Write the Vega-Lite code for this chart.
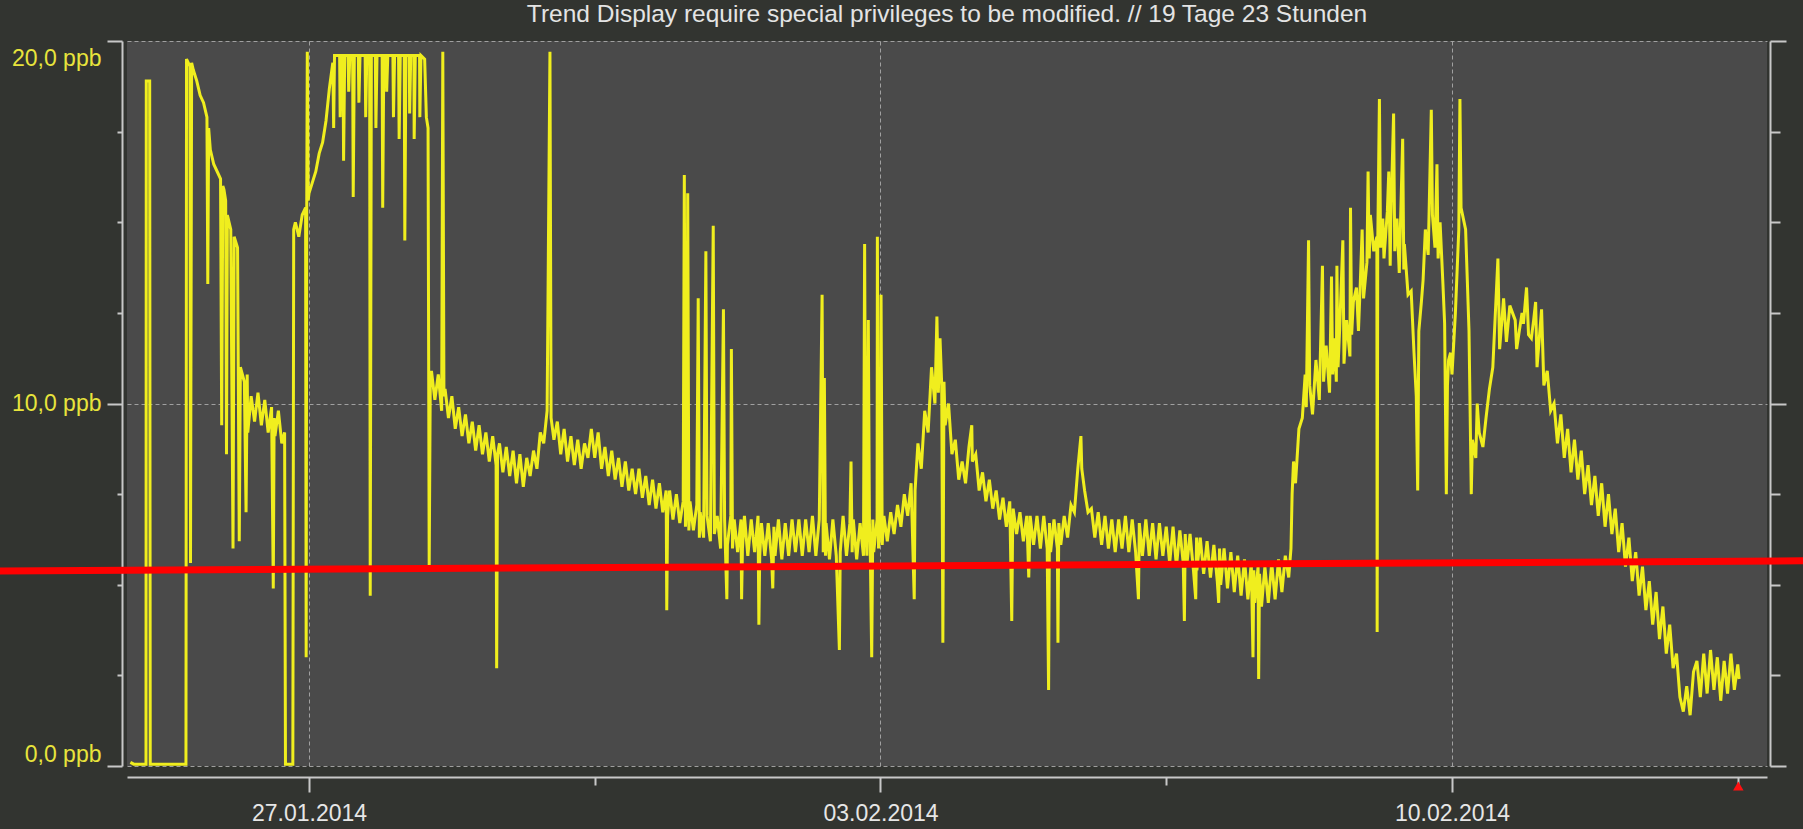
{
"$schema": "https://vega.github.io/schema/vega-lite/v6.json",
"width": 1640,
"height": 725,
"autosize": {"type": "none"},
"padding": {"left": 127, "top": 41, "right": 36, "bottom": 63},
"background": "#323430",
"view": {"fill": "#4a4a4a", "stroke": null},
"title": {"text": "Trend Display require special privileges to be modified. // 19 Tage 23 Stunden", "frame": "group", "anchor": "middle", "baseline": "alphabetic", "offset": 13, "dy": 19, "font": "Liberation Sans", "fontSize": 24.5, "fontWeight": "normal", "color": "#e4e4e4"},
"encoding": {
 "x": {"field": "t", "type": "temporal",
  "scale": {"domain": [{"year": 2014, "month": 1, "date": 24, "hours": 18, "minutes": 30}, {"year": 2014, "month": 2, "date": 13, "hours": 20, "minutes": 36}]},
  "axis": {"title": null, "orient": "bottom", "offset": 11,
   "values": [{"year": 2014, "month": 1, "date": 27}, {"year": 2014, "month": 1, "date": 30, "hours": 12}, {"year": 2014, "month": 2, "date": 3}, {"year": 2014, "month": 2, "date": 6, "hours": 12}, {"year": 2014, "month": 2, "date": 10}, {"year": 2014, "month": 2, "date": 13, "hours": 12}],
   "domainColor": "#c8c8c8", "domainWidth": 2, "tickColor": "#c8c8c8", "tickWidth": 2,
   "tickSize": {"condition": {"test": "hours(datum.value) == 0", "value": 15}, "value": 8},
   "grid": true, "gridColor": "#aaaaaa", "gridDash": [4, 3], "gridWidth": 1,
   "gridOpacity": {"condition": {"test": "hours(datum.value) == 0", "value": 0.9}, "value": 0},
   "labelExpr": "hours(datum.value) == 0 ? timeFormat(datum.value, '%d.%m.%Y') : ''",
   "labelFont": "Liberation Sans", "labelFontSize": 23, "labelColor": "#e6e6e6", "labelPadding": 10, "labelOverlap": false, "labelFlush": false}}
},
"layer": [
 {"data": {"values": [
{"t":"2014-01-24T19:30","v":0.1},{"t":"2014-01-24T20:30","v":0.05},{"t":"2014-01-24T22:00","v":0.05},{"t":"2014-01-24T23:30","v":0.05},
{"t":"2014-01-25T00:05","v":0.05},{"t":"2014-01-25T00:10","v":18.9},{"t":"2014-01-25T01:10","v":18.9},{"t":"2014-01-25T01:20","v":0.05},{"t":"2014-01-25T04:00","v":0.05},{"t":"2014-01-25T08:00","v":0.05},{"t":"2014-01-25T11:50","v":0.05},{"t":"2014-01-25T12:00","v":19.5},{"t":"2014-01-25T13:00","v":19.3},{"t":"2014-01-25T13:10","v":5.6},{"t":"2014-01-25T13:30","v":19.4},{"t":"2014-01-25T14:00","v":19.2},{"t":"2014-01-25T15:00","v":18.9},{"t":"2014-01-25T16:00","v":18.5},{"t":"2014-01-25T17:00","v":18.3},{"t":"2014-01-25T18:00","v":17.9},{"t":"2014-01-25T18:15","v":13.3},{"t":"2014-01-25T18:30","v":17.6},{"t":"2014-01-25T19:00","v":17.0},{"t":"2014-01-25T20:00","v":16.6},{"t":"2014-01-25T21:00","v":16.4},{"t":"2014-01-25T22:00","v":16.2},{"t":"2014-01-25T22:20","v":9.4},{"t":"2014-01-25T22:40","v":16.0},{"t":"2014-01-25T23:00","v":15.9},{"t":"2014-01-25T23:30","v":15.6},{"t":"2014-01-25T23:45","v":8.6},
{"t":"2014-01-26T00:00","v":15.2},{"t":"2014-01-26T01:00","v":14.8},{"t":"2014-01-26T01:40","v":6.0},{"t":"2014-01-26T02:00","v":14.6},{"t":"2014-01-26T03:00","v":14.3},{"t":"2014-01-26T03:30","v":6.2},{"t":"2014-01-26T03:50","v":11.0},{"t":"2014-01-26T05:00","v":10.6},{"t":"2014-01-26T05:30","v":7.0},{"t":"2014-01-26T05:50","v":10.8},{"t":"2014-01-26T06:00","v":9.2},{"t":"2014-01-26T07:00","v":10.2},{"t":"2014-01-26T08:00","v":9.5},{"t":"2014-01-26T09:00","v":10.3},{"t":"2014-01-26T10:00","v":9.4},{"t":"2014-01-26T11:00","v":10.1},{"t":"2014-01-26T12:00","v":9.2},{"t":"2014-01-26T13:00","v":9.9},{"t":"2014-01-26T13:30","v":4.9},{"t":"2014-01-26T13:45","v":9.6},{"t":"2014-01-26T14:00","v":9.1},{"t":"2014-01-26T15:00","v":9.8},{"t":"2014-01-26T16:00","v":8.9},{"t":"2014-01-26T16:50","v":9.2},{"t":"2014-01-26T17:05","v":0.05},{"t":"2014-01-26T19:15","v":0.05},{"t":"2014-01-26T19:30","v":14.8},{"t":"2014-01-26T20:00","v":15.0},{"t":"2014-01-26T21:00","v":14.6},{"t":"2014-01-26T22:00","v":15.2},{"t":"2014-01-26T23:00","v":15.4},{"t":"2014-01-26T23:10","v":3.0},{"t":"2014-01-26T23:20","v":15.3},{"t":"2014-01-26T23:30","v":19.7},{"t":"2014-01-26T23:45","v":15.6},
{"t":"2014-01-27T00:00","v":15.8},{"t":"2014-01-27T01:00","v":16.1},{"t":"2014-01-27T02:00","v":16.4},{"t":"2014-01-27T03:00","v":16.9},{"t":"2014-01-27T04:00","v":17.2},{"t":"2014-01-27T05:00","v":17.8},{"t":"2014-01-27T06:00","v":18.7},{"t":"2014-01-27T07:00","v":19.4},{"t":"2014-01-27T07:15","v":17.6},{"t":"2014-01-27T07:30","v":19.6},{"t":"2014-01-27T09:00","v":19.6},{"t":"2014-01-27T09:10","v":17.9},{"t":"2014-01-27T09:30","v":19.6},{"t":"2014-01-27T10:00","v":19.6},{"t":"2014-01-27T10:10","v":16.7},{"t":"2014-01-27T10:30","v":19.6},{"t":"2014-01-27T11:30","v":19.6},{"t":"2014-01-27T11:40","v":18.6},{"t":"2014-01-27T12:00","v":19.6},{"t":"2014-01-27T12:50","v":19.6},{"t":"2014-01-27T13:00","v":15.7},{"t":"2014-01-27T13:20","v":19.6},{"t":"2014-01-27T14:30","v":19.6},{"t":"2014-01-27T14:40","v":18.3},{"t":"2014-01-27T15:00","v":19.6},{"t":"2014-01-27T16:30","v":19.6},{"t":"2014-01-27T16:40","v":17.9},{"t":"2014-01-27T17:00","v":19.6},{"t":"2014-01-27T17:50","v":19.6},{"t":"2014-01-27T18:00","v":4.7},{"t":"2014-01-27T18:20","v":19.6},{"t":"2014-01-27T19:30","v":19.6},{"t":"2014-01-27T19:40","v":17.6},{"t":"2014-01-27T20:00","v":19.6},{"t":"2014-01-27T21:30","v":19.6},{"t":"2014-01-27T21:40","v":15.4},{"t":"2014-01-27T22:00","v":19.6},{"t":"2014-01-27T22:40","v":19.6},{"t":"2014-01-27T22:50","v":18.6},{"t":"2014-01-27T23:10","v":19.6},
{"t":"2014-01-28T00:40","v":19.6},{"t":"2014-01-28T00:50","v":17.9},{"t":"2014-01-28T01:10","v":19.6},{"t":"2014-01-28T02:20","v":19.6},{"t":"2014-01-28T02:30","v":17.3},{"t":"2014-01-28T02:50","v":19.6},{"t":"2014-01-28T04:00","v":19.6},{"t":"2014-01-28T04:10","v":14.5},{"t":"2014-01-28T04:30","v":19.6},{"t":"2014-01-28T05:30","v":19.6},{"t":"2014-01-28T05:35","v":18.0},{"t":"2014-01-28T05:55","v":19.6},{"t":"2014-01-28T06:50","v":19.6},{"t":"2014-01-28T06:55","v":17.3},{"t":"2014-01-28T07:15","v":19.6},{"t":"2014-01-28T08:30","v":19.6},{"t":"2014-01-28T08:35","v":17.9},{"t":"2014-01-28T08:55","v":19.6},{"t":"2014-01-28T10:00","v":19.5},{"t":"2014-01-28T10:30","v":17.9},{"t":"2014-01-28T11:00","v":17.6},{"t":"2014-01-28T11:20","v":5.5},{"t":"2014-01-28T11:40","v":10.8},{"t":"2014-01-28T12:00","v":10.9},{"t":"2014-01-28T13:00","v":10.1},{"t":"2014-01-28T14:00","v":10.8},{"t":"2014-01-28T15:00","v":9.8},{"t":"2014-01-28T15:20","v":19.7},{"t":"2014-01-28T15:40","v":10.2},{"t":"2014-01-28T16:00","v":10.4},{"t":"2014-01-28T17:00","v":9.6},{"t":"2014-01-28T18:00","v":10.2},{"t":"2014-01-28T19:00","v":9.3},{"t":"2014-01-28T20:00","v":9.9},{"t":"2014-01-28T21:00","v":9.1},{"t":"2014-01-28T22:00","v":9.7},{"t":"2014-01-28T23:00","v":8.9},
{"t":"2014-01-29T00:00","v":9.5},{"t":"2014-01-29T01:00","v":8.7},{"t":"2014-01-29T02:00","v":9.4},{"t":"2014-01-29T03:00","v":8.6},{"t":"2014-01-29T04:00","v":9.2},{"t":"2014-01-29T05:00","v":8.4},{"t":"2014-01-29T06:00","v":9.1},{"t":"2014-01-29T07:00","v":8.3},{"t":"2014-01-29T07:10","v":2.7},{"t":"2014-01-29T07:25","v":8.6},{"t":"2014-01-29T08:00","v":8.9},{"t":"2014-01-29T09:00","v":8.1},{"t":"2014-01-29T10:00","v":8.8},{"t":"2014-01-29T11:00","v":8.0},{"t":"2014-01-29T12:00","v":8.7},{"t":"2014-01-29T13:00","v":7.8},{"t":"2014-01-29T14:00","v":8.6},{"t":"2014-01-29T15:00","v":7.7},{"t":"2014-01-29T16:00","v":8.5},{"t":"2014-01-29T17:00","v":8.0},{"t":"2014-01-29T18:00","v":8.7},{"t":"2014-01-29T19:00","v":8.2},{"t":"2014-01-29T20:00","v":9.2},{"t":"2014-01-29T21:00","v":8.9},{"t":"2014-01-29T22:00","v":9.8},{"t":"2014-01-29T22:50","v":19.7},{"t":"2014-01-29T23:10","v":9.6},
{"t":"2014-01-30T00:00","v":9.0},{"t":"2014-01-30T01:00","v":9.5},{"t":"2014-01-30T02:00","v":8.6},{"t":"2014-01-30T03:00","v":9.3},{"t":"2014-01-30T04:00","v":8.4},{"t":"2014-01-30T05:00","v":9.1},{"t":"2014-01-30T06:00","v":8.3},{"t":"2014-01-30T07:00","v":9.0},{"t":"2014-01-30T08:00","v":8.2},{"t":"2014-01-30T09:00","v":8.9},{"t":"2014-01-30T10:00","v":8.5},{"t":"2014-01-30T11:00","v":9.3},{"t":"2014-01-30T12:00","v":8.5},{"t":"2014-01-30T13:00","v":9.2},{"t":"2014-01-30T14:00","v":8.2},{"t":"2014-01-30T15:00","v":8.8},{"t":"2014-01-30T16:00","v":8.0},{"t":"2014-01-30T17:00","v":8.7},{"t":"2014-01-30T18:00","v":7.9},{"t":"2014-01-30T19:00","v":8.5},{"t":"2014-01-30T20:00","v":7.7},{"t":"2014-01-30T21:00","v":8.4},{"t":"2014-01-30T22:00","v":7.6},{"t":"2014-01-30T23:00","v":8.2},
{"t":"2014-01-31T00:00","v":7.5},{"t":"2014-01-31T01:00","v":8.2},{"t":"2014-01-31T02:00","v":7.4},{"t":"2014-01-31T03:00","v":8.0},{"t":"2014-01-31T04:00","v":7.2},{"t":"2014-01-31T05:00","v":7.9},{"t":"2014-01-31T06:00","v":7.1},{"t":"2014-01-31T07:00","v":7.8},{"t":"2014-01-31T08:00","v":7.0},{"t":"2014-01-31T09:00","v":7.6},{"t":"2014-01-31T09:10","v":4.3},{"t":"2014-01-31T09:25","v":6.9},{"t":"2014-01-31T10:00","v":7.6},{"t":"2014-01-31T11:00","v":6.8},{"t":"2014-01-31T12:00","v":7.5},{"t":"2014-01-31T13:00","v":6.7},{"t":"2014-01-31T14:00","v":7.3},{"t":"2014-01-31T14:20","v":16.3},{"t":"2014-01-31T14:40","v":6.6},{"t":"2014-01-31T15:00","v":7.2},{"t":"2014-01-31T15:20","v":15.8},{"t":"2014-01-31T15:40","v":6.5},{"t":"2014-01-31T16:00","v":7.3},{"t":"2014-01-31T17:00","v":6.5},{"t":"2014-01-31T18:00","v":7.2},{"t":"2014-01-31T18:25","v":12.9},{"t":"2014-01-31T18:45","v":6.3},{"t":"2014-01-31T19:00","v":7.0},{"t":"2014-01-31T20:00","v":6.3},{"t":"2014-01-31T20:40","v":14.2},{"t":"2014-01-31T21:00","v":6.9},{"t":"2014-01-31T22:00","v":6.2},{"t":"2014-01-31T22:50","v":14.9},{"t":"2014-01-31T23:10","v":6.4},
{"t":"2014-02-01T00:00","v":6.9},{"t":"2014-02-01T01:00","v":6.0},{"t":"2014-02-01T01:50","v":12.6},{"t":"2014-02-01T02:10","v":6.8},{"t":"2014-02-01T02:50","v":4.6},{"t":"2014-02-01T03:00","v":6.1},{"t":"2014-02-01T04:00","v":6.9},{"t":"2014-02-01T04:10","v":11.5},{"t":"2014-02-01T04:30","v":6.0},{"t":"2014-02-01T05:00","v":6.8},{"t":"2014-02-01T06:00","v":5.9},{"t":"2014-02-01T07:00","v":6.8},{"t":"2014-02-01T07:10","v":4.6},{"t":"2014-02-01T07:25","v":6.0},{"t":"2014-02-01T08:00","v":6.9},{"t":"2014-02-01T09:00","v":5.8},{"t":"2014-02-01T10:00","v":6.8},{"t":"2014-02-01T11:00","v":5.9},{"t":"2014-02-01T12:00","v":6.9},{"t":"2014-02-01T12:15","v":3.9},{"t":"2014-02-01T12:30","v":5.8},{"t":"2014-02-01T13:00","v":6.7},{"t":"2014-02-01T14:00","v":5.8},{"t":"2014-02-01T15:00","v":6.7},{"t":"2014-02-01T16:00","v":5.7},{"t":"2014-02-01T16:20","v":4.9},{"t":"2014-02-01T16:40","v":6.6},{"t":"2014-02-01T17:00","v":5.8},{"t":"2014-02-01T18:00","v":6.8},{"t":"2014-02-01T19:00","v":5.7},{"t":"2014-02-01T20:00","v":6.7},{"t":"2014-02-01T21:00","v":5.8},{"t":"2014-02-01T22:00","v":6.8},{"t":"2014-02-01T23:00","v":5.9},
{"t":"2014-02-02T00:00","v":6.8},{"t":"2014-02-02T01:00","v":5.8},{"t":"2014-02-02T02:00","v":6.8},{"t":"2014-02-02T03:00","v":5.9},{"t":"2014-02-02T04:00","v":6.9},{"t":"2014-02-02T05:00","v":5.8},{"t":"2014-02-02T06:00","v":6.8},{"t":"2014-02-02T06:50","v":13.0},{"t":"2014-02-02T07:10","v":5.9},{"t":"2014-02-02T07:30","v":10.7},{"t":"2014-02-02T07:50","v":5.8},{"t":"2014-02-02T08:00","v":6.7},{"t":"2014-02-02T09:00","v":5.7},{"t":"2014-02-02T10:00","v":6.8},{"t":"2014-02-02T11:00","v":5.8},{"t":"2014-02-02T11:55","v":3.2},{"t":"2014-02-02T12:10","v":5.9},{"t":"2014-02-02T13:00","v":6.9},{"t":"2014-02-02T14:00","v":5.8},{"t":"2014-02-02T15:00","v":6.7},{"t":"2014-02-02T15:20","v":8.4},{"t":"2014-02-02T15:40","v":5.9},{"t":"2014-02-02T16:00","v":6.8},{"t":"2014-02-02T17:00","v":5.7},{"t":"2014-02-02T18:00","v":6.7},{"t":"2014-02-02T19:00","v":5.8},{"t":"2014-02-02T19:20","v":14.4},{"t":"2014-02-02T19:40","v":6.6},{"t":"2014-02-02T20:00","v":5.8},{"t":"2014-02-02T20:25","v":12.3},{"t":"2014-02-02T20:45","v":6.7},{"t":"2014-02-02T21:00","v":5.9},{"t":"2014-02-02T21:25","v":3.0},{"t":"2014-02-02T21:45","v":6.8},{"t":"2014-02-02T22:00","v":5.9},{"t":"2014-02-02T23:00","v":6.8},{"t":"2014-02-02T23:05","v":14.6},{"t":"2014-02-02T23:25","v":6.0},
{"t":"2014-02-03T00:00","v":6.9},{"t":"2014-02-03T00:10","v":13.0},{"t":"2014-02-03T00:30","v":6.1},{"t":"2014-02-03T01:00","v":6.9},{"t":"2014-02-03T02:00","v":6.2},{"t":"2014-02-03T03:00","v":7.0},{"t":"2014-02-03T04:00","v":6.4},{"t":"2014-02-03T05:00","v":7.2},{"t":"2014-02-03T06:00","v":6.6},{"t":"2014-02-03T07:00","v":7.5},{"t":"2014-02-03T08:00","v":6.9},{"t":"2014-02-03T09:00","v":7.8},{"t":"2014-02-03T09:55","v":4.6},{"t":"2014-02-03T10:10","v":7.6},{"t":"2014-02-03T11:00","v":8.9},{"t":"2014-02-03T12:00","v":8.2},{"t":"2014-02-03T13:00","v":9.8},{"t":"2014-02-03T14:00","v":9.2},{"t":"2014-02-03T15:00","v":11.0},{"t":"2014-02-03T16:00","v":10.0},{"t":"2014-02-03T16:35","v":12.4},{"t":"2014-02-03T17:00","v":10.3},{"t":"2014-02-03T17:30","v":11.8},{"t":"2014-02-03T18:00","v":10.5},{"t":"2014-02-03T18:20","v":3.4},{"t":"2014-02-03T18:40","v":10.6},{"t":"2014-02-03T19:00","v":9.4},{"t":"2014-02-03T20:00","v":10.0},{"t":"2014-02-03T21:00","v":8.6},{"t":"2014-02-03T22:00","v":9.0},{"t":"2014-02-03T23:00","v":7.9},
{"t":"2014-02-04T00:00","v":8.4},{"t":"2014-02-04T01:00","v":7.8},{"t":"2014-02-04T02:00","v":8.8},{"t":"2014-02-04T02:50","v":9.4},{"t":"2014-02-04T03:00","v":8.4},{"t":"2014-02-04T04:00","v":8.6},{"t":"2014-02-04T05:00","v":7.6},{"t":"2014-02-04T06:00","v":8.1},{"t":"2014-02-04T07:00","v":7.3},{"t":"2014-02-04T08:00","v":7.9},{"t":"2014-02-04T09:00","v":7.1},{"t":"2014-02-04T10:00","v":7.6},{"t":"2014-02-04T11:00","v":6.8},{"t":"2014-02-04T12:00","v":7.4},{"t":"2014-02-04T13:00","v":6.6},{"t":"2014-02-04T14:00","v":7.3},{"t":"2014-02-04T14:35","v":4.0},{"t":"2014-02-04T14:50","v":6.5},{"t":"2014-02-04T15:00","v":7.1},{"t":"2014-02-04T16:00","v":6.4},{"t":"2014-02-04T17:00","v":7.0},{"t":"2014-02-04T18:00","v":6.2},{"t":"2014-02-04T19:00","v":6.9},{"t":"2014-02-04T19:35","v":5.2},{"t":"2014-02-04T19:50","v":6.2},{"t":"2014-02-04T20:00","v":6.9},{"t":"2014-02-04T21:00","v":6.1},{"t":"2014-02-04T22:00","v":6.9},{"t":"2014-02-04T23:00","v":6.0},
{"t":"2014-02-05T00:00","v":6.9},{"t":"2014-02-05T01:00","v":6.0},{"t":"2014-02-05T01:25","v":2.1},{"t":"2014-02-05T01:40","v":6.7},{"t":"2014-02-05T02:00","v":5.9},{"t":"2014-02-05T03:00","v":6.8},{"t":"2014-02-05T04:00","v":6.0},{"t":"2014-02-05T04:10","v":3.4},{"t":"2014-02-05T04:25","v":6.7},{"t":"2014-02-05T05:00","v":6.1},{"t":"2014-02-05T06:00","v":6.9},{"t":"2014-02-05T07:00","v":6.3},{"t":"2014-02-05T08:00","v":7.2},{"t":"2014-02-05T09:00","v":7.0},{"t":"2014-02-05T10:00","v":8.2},{"t":"2014-02-05T10:55","v":9.1},{"t":"2014-02-05T11:10","v":8.2},{"t":"2014-02-05T12:00","v":7.6},{"t":"2014-02-05T13:00","v":7.0},{"t":"2014-02-05T14:00","v":7.1},{"t":"2014-02-05T15:00","v":6.3},{"t":"2014-02-05T16:00","v":7.0},{"t":"2014-02-05T17:00","v":6.1},{"t":"2014-02-05T18:00","v":6.9},{"t":"2014-02-05T19:00","v":6.0},{"t":"2014-02-05T20:00","v":6.8},{"t":"2014-02-05T21:00","v":5.9},{"t":"2014-02-05T22:00","v":6.8},{"t":"2014-02-05T23:00","v":6.0},
{"t":"2014-02-06T00:00","v":6.9},{"t":"2014-02-06T01:00","v":5.9},{"t":"2014-02-06T02:00","v":6.8},{"t":"2014-02-06T03:00","v":5.9},{"t":"2014-02-06T03:50","v":4.6},{"t":"2014-02-06T04:05","v":6.7},{"t":"2014-02-06T05:00","v":5.8},{"t":"2014-02-06T06:00","v":6.8},{"t":"2014-02-06T07:00","v":5.8},{"t":"2014-02-06T08:00","v":6.7},{"t":"2014-02-06T09:00","v":5.7},{"t":"2014-02-06T10:00","v":6.7},{"t":"2014-02-06T11:00","v":5.8},{"t":"2014-02-06T12:00","v":6.6},{"t":"2014-02-06T13:00","v":5.6},{"t":"2014-02-06T14:00","v":6.6},{"t":"2014-02-06T15:00","v":5.5},{"t":"2014-02-06T16:00","v":6.5},{"t":"2014-02-06T17:00","v":5.6},{"t":"2014-02-06T17:20","v":4.0},{"t":"2014-02-06T17:35","v":6.4},{"t":"2014-02-06T18:00","v":5.5},{"t":"2014-02-06T19:00","v":6.4},{"t":"2014-02-06T20:00","v":5.4},{"t":"2014-02-06T20:40","v":4.6},{"t":"2014-02-06T20:55","v":6.3},{"t":"2014-02-06T21:00","v":5.4},{"t":"2014-02-06T22:00","v":6.3},{"t":"2014-02-06T23:00","v":5.3},
{"t":"2014-02-07T00:00","v":6.2},{"t":"2014-02-07T01:00","v":5.2},{"t":"2014-02-07T02:00","v":6.1},{"t":"2014-02-07T03:00","v":5.1},{"t":"2014-02-07T03:25","v":4.5},{"t":"2014-02-07T03:40","v":6.0},{"t":"2014-02-07T04:00","v":5.0},{"t":"2014-02-07T05:00","v":6.0},{"t":"2014-02-07T06:00","v":4.9},{"t":"2014-02-07T07:00","v":5.9},{"t":"2014-02-07T08:00","v":4.8},{"t":"2014-02-07T09:00","v":5.8},{"t":"2014-02-07T10:00","v":4.7},{"t":"2014-02-07T11:00","v":5.7},{"t":"2014-02-07T12:00","v":4.6},{"t":"2014-02-07T13:00","v":5.6},{"t":"2014-02-07T13:30","v":3.0},{"t":"2014-02-07T13:45","v":5.4},{"t":"2014-02-07T14:00","v":4.5},{"t":"2014-02-07T15:00","v":5.5},{"t":"2014-02-07T15:10","v":2.4},{"t":"2014-02-07T15:25","v":5.3},{"t":"2014-02-07T16:00","v":4.4},{"t":"2014-02-07T17:00","v":5.5},{"t":"2014-02-07T18:00","v":4.5},{"t":"2014-02-07T19:00","v":5.6},{"t":"2014-02-07T20:00","v":4.6},{"t":"2014-02-07T21:00","v":5.7},{"t":"2014-02-07T22:00","v":4.8},{"t":"2014-02-07T23:00","v":5.8},
{"t":"2014-02-08T00:00","v":5.2},{"t":"2014-02-08T00:40","v":6.0},{"t":"2014-02-08T01:00","v":7.5},{"t":"2014-02-08T01:25","v":8.4},{"t":"2014-02-08T02:00","v":7.8},{"t":"2014-02-08T03:00","v":9.3},{"t":"2014-02-08T04:00","v":9.6},{"t":"2014-02-08T04:50","v":10.8},{"t":"2014-02-08T05:10","v":9.9},{"t":"2014-02-08T05:50","v":14.5},{"t":"2014-02-08T06:10","v":10.5},{"t":"2014-02-08T07:00","v":9.7},{"t":"2014-02-08T08:00","v":11.2},{"t":"2014-02-08T09:00","v":10.1},{"t":"2014-02-08T09:55","v":13.8},{"t":"2014-02-08T10:15","v":10.6},{"t":"2014-02-08T11:00","v":11.6},{"t":"2014-02-08T12:00","v":10.3},{"t":"2014-02-08T12:35","v":13.5},{"t":"2014-02-08T12:55","v":10.8},{"t":"2014-02-08T13:30","v":11.8},{"t":"2014-02-08T14:00","v":10.6},{"t":"2014-02-08T14:10","v":13.8},{"t":"2014-02-08T14:30","v":11.0},{"t":"2014-02-08T15:00","v":12.1},{"t":"2014-02-08T15:55","v":14.5},{"t":"2014-02-08T16:15","v":11.1},{"t":"2014-02-08T17:00","v":12.3},{"t":"2014-02-08T18:00","v":11.3},{"t":"2014-02-08T18:10","v":15.4},{"t":"2014-02-08T18:30","v":11.9},{"t":"2014-02-08T19:00","v":12.8},{"t":"2014-02-08T19:55","v":13.2},{"t":"2014-02-08T20:30","v":12.0},{"t":"2014-02-08T21:00","v":13.2},{"t":"2014-02-08T21:35","v":14.8},{"t":"2014-02-08T22:00","v":12.9},{"t":"2014-02-08T23:00","v":13.9},{"t":"2014-02-08T23:20","v":16.4},{"t":"2014-02-08T23:40","v":14.0},
{"t":"2014-02-09T00:00","v":15.2},{"t":"2014-02-09T01:00","v":14.2},{"t":"2014-02-09T01:55","v":14.6},{"t":"2014-02-09T02:00","v":3.7},{"t":"2014-02-09T02:10","v":14.4},{"t":"2014-02-09T02:40","v":18.4},{"t":"2014-02-09T03:00","v":14.3},{"t":"2014-02-09T03:40","v":15.1},{"t":"2014-02-09T04:00","v":14.0},{"t":"2014-02-09T05:00","v":15.3},{"t":"2014-02-09T05:25","v":16.4},{"t":"2014-02-09T05:50","v":13.8},{"t":"2014-02-09T06:00","v":15.0},{"t":"2014-02-09T06:50","v":18.0},{"t":"2014-02-09T07:10","v":14.2},{"t":"2014-02-09T07:50","v":15.1},{"t":"2014-02-09T08:30","v":13.6},{"t":"2014-02-09T09:30","v":17.3},{"t":"2014-02-09T09:50","v":13.7},{"t":"2014-02-09T10:00","v":14.4},{"t":"2014-02-09T11:05","v":13.0},{"t":"2014-02-09T12:00","v":13.1},{"t":"2014-02-09T12:50","v":11.4},{"t":"2014-02-09T13:30","v":10.2},{"t":"2014-02-09T13:55","v":7.6},{"t":"2014-02-09T14:15","v":12.0},{"t":"2014-02-09T15:00","v":12.8},{"t":"2014-02-09T15:30","v":13.4},{"t":"2014-02-09T16:10","v":14.8},{"t":"2014-02-09T17:00","v":14.1},{"t":"2014-02-09T17:55","v":18.1},{"t":"2014-02-09T18:15","v":15.2},{"t":"2014-02-09T19:00","v":14.3},{"t":"2014-02-09T19:35","v":16.6},{"t":"2014-02-09T19:55","v":14.0},{"t":"2014-02-09T20:30","v":15.0},{"t":"2014-02-09T21:20","v":13.3},{"t":"2014-02-09T21:50","v":12.2},{"t":"2014-02-09T22:20","v":7.5},{"t":"2014-02-09T22:40","v":10.5},{"t":"2014-02-09T23:00","v":11.2},{"t":"2014-02-09T23:35","v":11.4},
{"t":"2014-02-10T00:00","v":10.8},{"t":"2014-02-10T01:00","v":12.5},{"t":"2014-02-10T02:00","v":14.8},{"t":"2014-02-10T02:20","v":18.4},{"t":"2014-02-10T02:40","v":15.4},{"t":"2014-02-10T04:00","v":14.8},{"t":"2014-02-10T05:00","v":12.0},{"t":"2014-02-10T05:40","v":7.5},{"t":"2014-02-10T06:00","v":9.0},{"t":"2014-02-10T07:00","v":8.5},{"t":"2014-02-10T07:25","v":10.0},{"t":"2014-02-10T08:00","v":9.2},{"t":"2014-02-10T09:05","v":8.8},{"t":"2014-02-10T10:00","v":9.6},{"t":"2014-02-10T11:00","v":10.4},{"t":"2014-02-10T12:00","v":11.0},{"t":"2014-02-10T13:30","v":14.0},{"t":"2014-02-10T14:00","v":11.5},{"t":"2014-02-10T15:10","v":12.9},{"t":"2014-02-10T16:00","v":11.7},{"t":"2014-02-10T17:00","v":12.7},{"t":"2014-02-10T18:35","v":12.3},{"t":"2014-02-10T19:00","v":11.5},{"t":"2014-02-10T20:35","v":12.5},{"t":"2014-02-10T21:00","v":12.2},{"t":"2014-02-10T21:55","v":13.2},{"t":"2014-02-10T22:30","v":11.9},{"t":"2014-02-10T23:20","v":11.8},
{"t":"2014-02-11T00:00","v":12.3},{"t":"2014-02-11T00:35","v":12.8},{"t":"2014-02-11T01:00","v":11.0},{"t":"2014-02-11T02:20","v":12.6},{"t":"2014-02-11T03:00","v":10.5},{"t":"2014-02-11T04:00","v":10.9},{"t":"2014-02-11T05:00","v":9.8},{"t":"2014-02-11T06:00","v":10.0},{"t":"2014-02-11T07:00","v":8.9},{"t":"2014-02-11T08:00","v":9.7},{"t":"2014-02-11T09:00","v":8.5},{"t":"2014-02-11T10:00","v":9.3},{"t":"2014-02-11T11:00","v":8.1},{"t":"2014-02-11T12:00","v":9.0},{"t":"2014-02-11T13:00","v":7.9},{"t":"2014-02-11T14:00","v":8.7},{"t":"2014-02-11T15:00","v":7.5},{"t":"2014-02-11T16:00","v":8.3},{"t":"2014-02-11T17:00","v":7.2},{"t":"2014-02-11T18:00","v":8.0},{"t":"2014-02-11T19:00","v":6.9},{"t":"2014-02-11T20:00","v":7.8},{"t":"2014-02-11T21:00","v":6.6},{"t":"2014-02-11T22:00","v":7.5},{"t":"2014-02-11T23:00","v":6.4},
{"t":"2014-02-12T00:00","v":7.1},{"t":"2014-02-12T01:00","v":5.9},{"t":"2014-02-12T02:00","v":6.7},{"t":"2014-02-12T03:00","v":5.5},{"t":"2014-02-12T04:00","v":6.3},{"t":"2014-02-12T05:00","v":5.1},{"t":"2014-02-12T06:00","v":5.9},{"t":"2014-02-12T07:00","v":4.7},{"t":"2014-02-12T08:00","v":5.5},{"t":"2014-02-12T09:00","v":4.3},{"t":"2014-02-12T10:00","v":5.1},{"t":"2014-02-12T11:00","v":3.9},{"t":"2014-02-12T12:00","v":4.8},{"t":"2014-02-12T13:00","v":3.5},{"t":"2014-02-12T14:00","v":4.4},{"t":"2014-02-12T15:00","v":3.1},{"t":"2014-02-12T16:00","v":3.9},{"t":"2014-02-12T17:00","v":2.7},{"t":"2014-02-12T18:00","v":3.1},{"t":"2014-02-12T19:00","v":1.9},{"t":"2014-02-12T20:00","v":1.5},{"t":"2014-02-12T21:00","v":2.2},{"t":"2014-02-12T22:00","v":1.4},{"t":"2014-02-12T23:00","v":2.6},
{"t":"2014-02-13T00:00","v":2.9},{"t":"2014-02-13T01:00","v":1.9},{"t":"2014-02-13T02:00","v":3.1},{"t":"2014-02-13T03:00","v":2.0},{"t":"2014-02-13T04:00","v":3.2},{"t":"2014-02-13T05:00","v":2.1},{"t":"2014-02-13T06:00","v":3.0},{"t":"2014-02-13T07:00","v":1.8},{"t":"2014-02-13T08:00","v":2.9},{"t":"2014-02-13T09:00","v":2.0},{"t":"2014-02-13T10:00","v":3.1},{"t":"2014-02-13T11:00","v":2.1},{"t":"2014-02-13T12:00","v":2.8},{"t":"2014-02-13T12:25","v":2.4}
 ]},
  "mark": {"type": "line", "color": "#f0ee1e", "strokeWidth": 3},
  "encoding": {"y": {"field": "v", "type": "quantitative",
   "scale": {"domain": [0, 20], "nice": false, "zero": false},
   "axis": {"orient": "left", "title": null, "offset": 5, "values": [0, 2.5, 5, 7.5, 10, 12.5, 15, 17.5, 20],
    "domainColor": "#c8c8c8", "domainWidth": 2, "tickColor": "#c8c8c8", "tickWidth": 2,
    "tickSize": {"condition": {"test": "datum.value % 10 == 0", "value": 15}, "value": 5},
    "grid": true, "gridColor": "#aaaaaa", "gridDash": [4, 3], "gridWidth": 1,
    "gridOpacity": {"condition": {"test": "datum.value % 10 == 0", "value": 0.9}, "value": 0},
    "labelExpr": "datum.value == 20 ? '20,0 ppb' : datum.value == 10 ? '10,0 ppb' : datum.value == 0 ? '0,0 ppb' : ''",
    "labelFont": "Liberation Sans", "labelFontSize": 23, "labelColor": "#e8e43c", "labelPadding": 6,
    "labelFlush": true, "labelOverlap": false, "labelBound": false,
    "labelOffset": {"condition": {"test": "datum.value == 20", "value": 6}, "value": 0}}}}
 },
 {"data": {"values": [{"t": "2014-01-23T05:10", "t2": "2014-02-14T07:12", "v": 5.38, "v2": 5.66}]},
  "mark": {"type": "rule", "color": "#ff0000", "strokeWidth": 7, "clip": false},
  "encoding": {"x2": {"field": "t2"},
   "y": {"field": "v", "type": "quantitative", "scale": {"domain": [0, 20], "nice": false, "zero": false},
    "axis": {"orient": "right", "title": null, "offset": 3, "values": [0, 2.5, 5, 7.5, 10, 12.5, 15, 17.5, 20], "labels": false, "grid": false,
     "domainColor": "#c8c8c8", "domainWidth": 2, "tickColor": "#c8c8c8", "tickWidth": 2,
     "tickSize": {"condition": {"test": "datum.value % 10 == 0", "value": 16}, "value": 10}}},
   "y2": {"field": "v2"}}
 },
 {"data": {"values": [{"t": "2014-02-13T12:10", "v": -0.55}]},
  "mark": {"type": "point", "shape": "triangle-up", "filled": true, "color": "#ff1010", "opacity": 1, "size": 110, "clip": false},
  "encoding": {"y": {"field": "v", "type": "quantitative", "scale": {"domain": [0, 20], "nice": false, "zero": false}, "axis": null}}
 }
],
"resolve": {"axis": {"y": "independent"}}
}
